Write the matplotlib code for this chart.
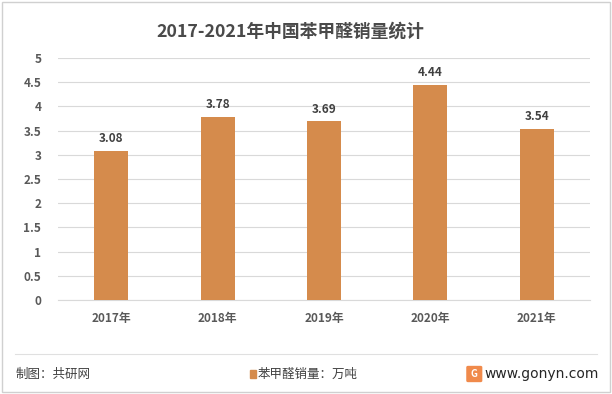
import matplotlib.pyplot as plt
import matplotlib.patches as patches
from matplotlib.lines import Line2D

plt.rcParams['font.family'] = ['Noto Sans CJK SC', 'DejaVu Sans']

years = ["2017年", "2018年", "2019年", "2020年", "2021年"]
sales = [3.08, 3.78, 3.69, 4.44, 3.54]
yticks = [0, 0.5, 1, 1.5, 2, 2.5, 3, 3.5, 4, 4.5, 5]
ytick_labels = ["0", "0.5", "1", "1.5", "2", "2.5", "3", "3.5", "4", "4.5", "5"]

bar_color = "#D58B4C"
text_color = "#595959"

fig = plt.figure(figsize=(6.12, 3.94), dpi=100)
ax = fig.add_axes([0.0948, 0.2386, 0.869, 0.614])

x = list(range(len(years)))
bars = ax.bar(x, sales, width=0.32, color=bar_color, zorder=3)
for xi, v in zip(x, sales):
    ax.text(xi, v + 0.12, f"{v:.2f}", ha="center", va="bottom", fontsize=8.5,
            fontweight="bold", color="#404040")

ax.set_xlim(-0.5, len(years) - 0.5)
ax.set_ylim(0, 5)
ax.set_yticks(yticks)
ax.set_yticklabels(ytick_labels)
ax.set_xticks(x)
ax.set_xticklabels(years)
ax.tick_params(axis="both", length=0, labelsize=8.5, labelcolor=text_color)
ax.tick_params(axis="y", pad=12)
ax.tick_params(axis="x", pad=9)
for lab in ax.get_xticklabels() + ax.get_yticklabels():
    lab.set_fontweight("bold")
ax.grid(axis="y", color="#D9D9D9", linewidth=0.8, zorder=0)
for s in ["top", "right", "left"]:
    ax.spines[s].set_visible(False)
ax.spines["bottom"].set_color("#D9D9D9")

fig.text(0.474, 1 - 32 / 394, "2017-2021年中国苯甲醛销量统计", ha="center", va="center",
         fontsize=12.8, fontweight="bold", color="#4A4A4A")

# footer
fy = 1 - 374 / 394
fig.add_artist(Line2D([0.025, 0.975], [1 - 354 / 394, 1 - 354 / 394],
                      color="#E0E0E0", linewidth=0.8))
fig.text(0.025, fy, "制图：共研网", ha="left", va="center", fontsize=9,
         color="#404040")
fig.add_artist(patches.Rectangle((0.409, fy - 0.011), 0.010, 0.02,
                                 color=bar_color, transform=fig.transFigure))
fig.text(0.421, fy, "苯甲醛销量：万吨", ha="left", va="center",
         fontsize=9, color="#404040")
fig.add_artist(patches.FancyBboxPatch((0.765, fy - 0.017), 0.02, 0.034,
                                      boxstyle="round,pad=0.002",
                                      color="#F08A4B", transform=fig.transFigure))
fig.text(0.775, fy, "G", ha="center", va="center", fontsize=7,
         fontweight="bold", color="white")
fig.text(0.978, fy, "www.gonyn.com", ha="right", va="center",
         fontsize=10, color="#262626", family=["DejaVu Sans"])

fig.add_artist(patches.Rectangle((0.003, 0.004), 0.994, 0.992, fill=False,
                                 edgecolor="#D0D0D0", linewidth=1,
                                 transform=fig.transFigure))

fig.savefig("out.png", dpi=100)
